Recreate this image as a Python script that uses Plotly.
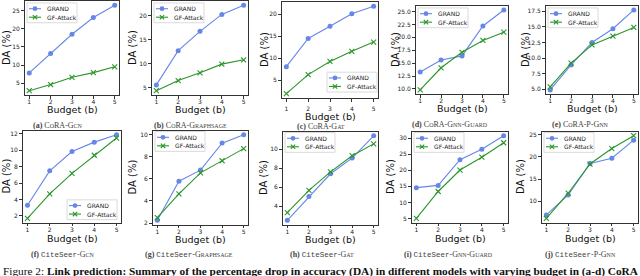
import plotly.graph_objects as go

# ---------------- data ----------------
budget = [1, 2, 3, 4, 5]

panel_letters = ["a", "b", "c", "d", "e", "f", "g", "h", "i", "j"]
dataset_names = ["CoRA"] * 5 + ["CiteSeer"] * 5
model_names = ["GCN", "GraphSage", "GAT", "GNN-Guard", "P-GNN"] * 2
series_names = ["GRAND", "GF-Attack"]

grand_cora_gcn = [7.8, 13.2, 18.5, 23.1, 26.5]
gf_cora_gcn = [2.9, 4.6, 6.6, 7.9, 9.5]
grand_cora_sage = [5.6, 12.7, 16.7, 20.2, 22.1]
gf_cora_sage = [4.4, 6.5, 8.1, 9.9, 10.8]
grand_cora_gat = [8.1, 14.5, 17.3, 20.1, 21.8]
gf_cora_gat = [2.0, 6.3, 9.3, 11.6, 13.7]
grand_cora_guard = [13.3, 15.6, 16.4, 22.2, 25.3]
gf_cora_guard = [9.8, 14.1, 17.1, 19.4, 21.0]
grand_cora_pgnn = [4.9, 8.9, 12.5, 14.7, 17.7]
gf_cora_pgnn = [5.4, 9.2, 12.1, 13.5, 14.9]

grand_cite_gcn = [3.3, 7.5, 9.85, 11.0, 11.9]
gf_cite_gcn = [1.7, 4.7, 7.2, 9.4, 11.5]
grand_cite_sage = [2.25, 5.8, 6.8, 9.25, 10.0]
gf_cite_sage = [2.5, 4.65, 6.55, 7.65, 8.75]
grand_cite_gat = [2.5, 5.0, 7.4, 9.05, 11.4]
gf_cite_gat = [3.3, 5.65, 7.6, 9.3, 10.55]
grand_cite_guard = [14.6, 15.3, 23.3, 26.6, 30.8]
gf_cite_guard = [5.0, 13.4, 20.1, 24.1, 28.6]
grand_cite_pgnn = [6.9, 11.4, 18.5, 19.7, 23.8]
gf_cite_pgnn = [6.1, 11.8, 18.4, 21.9, 24.8]

grand_all = [grand_cora_gcn, grand_cora_sage, grand_cora_gat, grand_cora_guard, grand_cora_pgnn,
             grand_cite_gcn, grand_cite_sage, grand_cite_gat, grand_cite_guard, grand_cite_pgnn]
gf_all = [gf_cora_gcn, gf_cora_sage, gf_cora_gat, gf_cora_guard, gf_cora_pgnn,
          gf_cite_gcn, gf_cite_sage, gf_cite_gat, gf_cite_guard, gf_cite_pgnn]

yticks_all = [
    [5, 10, 15, 20, 25],
    [5, 10, 15, 20],
    [5, 10, 15, 20],
    [10.0, 12.5, 15.0, 17.5, 20.0, 22.5, 25.0],
    [5.0, 7.5, 10.0, 12.5, 15.0, 17.5],
    [2, 4, 6, 8, 10, 12],
    [2, 4, 6, 8, 10],
    [4, 6, 8, 10],
    [5, 10, 15, 20, 25, 30],
    [10, 15, 20, 25],
]
ytick_labels_all = [
    ["5", "10", "15", "20", "25"],
    ["5", "10", "15", "20"],
    ["5", "10", "15", "20"],
    ["10.0", "12.5", "15.0", "17.5", "20.0", "22.5", "25.0"],
    ["5.0", "7.5", "10.0", "12.5", "15.0", "17.5"],
    ["2", "4", "6", "8", "10", "12"],
    ["2", "4", "6", "8", "10"],
    ["4", "6", "8", "10"],
    ["5", "10", "15", "20", "25", "30"],
    ["10", "15", "20", "25"],
]
xtick_labels = ["1", "2", "3", "4", "5"]

# ---------------- layout geometry (pixels) ----------------
W, H = 640, 276
# left, right, top, bottom of each plotting area
boxes = [
    (25, 119, 0, 95), (152, 248, 0, 95), (282, 378, 1, 98), (416, 508, 5, 94), (546, 638, 5, 94),
    (23, 121, 131, 224), (153, 248, 131, 226), (283, 378, 132, 226), (412, 508, 132, 224), (542, 638, 132, 224),
]
legend_pos = [(27, 2), (154, 2), (327, 72), (418, 7), (548, 7),
              (67, 201), (155, 132), (285, 133), (414, 133), (544, 133)]
ylabel_x = [7, 133, 265, 396, 526, 7, 133, 263, 390, 520]
budget_y = [110, 110, 117, 109, 109, 240, 241.5, 241.5, 240, 240]
caption_x = [58, 190, 321, 450, 580, 62, 189, 322, 448, 580]
caption_y = [126, 126, 127, 125, 125, 256, 256.5, 256.5, 256, 256]
xtick_standoff = [-2, -2, 2, -2, -2, -2, -2, -2, -2, -2]

BLUE = "#6787e7"
GREEN = "#2a962a"
AX = "#333333"


def px_x(p):
    return p / W


def px_y(p):
    return 1 - p / H


def small_caps(word, size):
    out = ""
    for part in word.split("-"):
        if out:
            out += "-"
        out += part[0] + ("<span style='font-size:%dpx'>%s</span>" % (size, part[1:].upper()) if len(part) > 1 else "")
    return out


fig = go.Figure()
annotations = []
shapes = []
layout_axes = {}

for i in range(10):
    n = i + 1
    xa = "x" if n == 1 else "x%d" % n
    ya = "y" if n == 1 else "y%d" % n
    l, r, t, b = boxes[i]

    ys = grand_all[i] + gf_all[i]
    lo, hi = min(ys), max(ys)
    pad = 0.05 * (hi - lo)

    fig.add_trace(go.Scatter(
        x=budget, y=grand_all[i], name=series_names[0], mode="lines+markers", showlegend=False,
        line=dict(color=BLUE, width=1.1), marker=dict(symbol="circle", size=5, color=BLUE),
        xaxis=xa, yaxis=ya))
    fig.add_trace(go.Scatter(
        x=budget, y=gf_all[i], name=series_names[1], mode="lines+markers", showlegend=False,
        line=dict(color=GREEN, width=1.1), marker=dict(symbol="x-thin", size=5, color=GREEN,
                                                         line=dict(color=GREEN, width=1.1)),
        xaxis=xa, yaxis=ya))

    common = dict(showline=True, mirror=True, linecolor=AX, linewidth=0.8, showgrid=False,
                  zeroline=False, ticks="outside", ticklen=3, tickwidth=0.8, tickcolor=AX,
                  tickfont=dict(family="DejaVu Sans", size=6, color="#222222"))
    layout_axes["xaxis" if n == 1 else "xaxis%d" % n] = dict(
        domain=[px_x(l), px_x(r)], anchor=ya, range=[0.8, 5.2],
        tickvals=budget, ticktext=xtick_labels, ticklabelstandoff=xtick_standoff[i], **common)
    layout_axes["yaxis" if n == 1 else "yaxis%d" % n] = dict(
        domain=[px_y(b), px_y(t)], anchor=xa, range=[lo - pad, hi + pad],
        tickvals=yticks_all[i], ticktext=ytick_labels_all[i], **common)

    # legend box (matplotlib style, small)
    L, T = legend_pos[i]
    LW, LH = 50, 20
    shapes.append(dict(type="rect", xref="paper", yref="paper",
                       x0=px_x(L), x1=px_x(L + LW), y0=px_y(T), y1=px_y(T + LH),
                       line=dict(color="#d0d0d0", width=0.8), fillcolor="rgba(255,255,255,0.85)"))
    for k, (nm, col) in enumerate(zip(series_names, [BLUE, GREEN])):
        yc = T + 5.8 + 8.6 * k
        shapes.append(dict(type="line", xref="paper", yref="paper",
                           x0=px_x(L + 2), x1=px_x(L + 14), y0=px_y(yc), y1=px_y(yc),
                           line=dict(color=col, width=1.1)))
        if k == 0:
            shapes.append(dict(type="circle", xref="paper", yref="paper",
                               x0=px_x(L + 5.6), x1=px_x(L + 10.4), y0=px_y(yc - 2.4), y1=px_y(yc + 2.4),
                               line=dict(color=col, width=0), fillcolor=col))
        else:
            for dy in (-2.2, 2.2):
                shapes.append(dict(type="line", xref="paper", yref="paper",
                                   x0=px_x(L + 5.8), x1=px_x(L + 10.2), y0=px_y(yc - dy), y1=px_y(yc + dy),
                                   line=dict(color=col, width=1.1)))
        annotations.append(dict(text=nm, x=px_x(L + 18), y=px_y(yc), xref="paper", yref="paper",
                                showarrow=False, xanchor="left", yanchor="middle",
                                font=dict(family="DejaVu Sans", size=6, color="#222222")))

    # axis titles
    annotations.append(dict(text="DA (%)", x=px_x(ylabel_x[i]), y=px_y((t + b) / 2),
                            xref="paper", yref="paper", showarrow=False, textangle=-90,
                            xanchor="center", yanchor="middle",
                            font=dict(family="DejaVu Sans", size=10, color="#111111")))
    annotations.append(dict(text="Budget (b)", x=px_x((l + r) / 2), y=px_y(budget_y[i]),
                            xref="paper", yref="paper", showarrow=False,
                            xanchor="center", yanchor="middle",
                            font=dict(family="DejaVu Sans", size=9.5, color="#111111")))

    # subfigure caption
    if dataset_names[i] == "CoRA":
        ds = "C<span style='font-size:6px'>O</span>RA"
    else:
        ds = "<span style='font-family:Liberation Mono;font-size:7.5px'>CiteSeer</span>"
    cap = "<b>(%s)</b> %s-%s" % (panel_letters[i], ds, small_caps(model_names[i], 6))
    annotations.append(dict(text=cap, x=px_x(caption_x[i]), y=px_y(caption_y[i]), xref="paper", yref="paper",
                            showarrow=False, xanchor="center", yanchor="middle",
                            font=dict(family="Liberation Serif", size=8, color="#444444")))

annotations.append(dict(
    text="Figure 2: <b>Link prediction: Summary of the percentage drop in accuracy (DA) in different models "
         "with varying budget in (a-d) CoRA</b>",
    x=px_x(1), y=px_y(273), xref="paper", yref="paper", showarrow=False,
    xanchor="left", yanchor="middle",
    font=dict(family="Liberation Serif", size=11.3, color="#111111")))

fig.update_layout(
    width=W, height=H, margin=dict(l=0, r=0, t=0, b=0),
    paper_bgcolor="white", plot_bgcolor="white", showlegend=False,
    annotations=annotations, shapes=shapes, **layout_axes)

fig.write_html("out.html", config={"displayModeBar": False},
               post_script="document.body.style.margin='0px';"
                           "document.body.style.overflow='hidden';")
